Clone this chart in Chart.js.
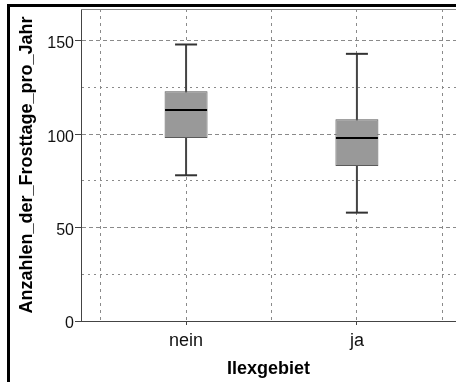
<!DOCTYPE html>
<html>
<head>
<meta charset="utf-8">
<script src="https://cdn.jsdelivr.net/npm/chart.js@4.4.1/dist/chart.umd.min.js"></script>
<style>
  html, body { margin: 0; padding: 0; background: #fff; overflow: hidden; }
  #wrap { position: relative; width: 456px; height: 382px; overflow: hidden; }
  #wrap canvas { position: absolute; left: 0; top: 0; }
  #frame { position: absolute; left: 7px; top: 4px; width: 600px; height: 600px;
           border-left: 3px solid #000; border-top: 3px solid #000; pointer-events: none; }
</style>
</head>
<body>
<div id="wrap">
  <canvas id="chart" width="456" height="382"></canvas>
  <div id="frame"></div>
</div>
<script>
// Frost days per year, split by whether the site lies in the holly (Ilex) region
const categories  = ['nein', 'ja'];
const whiskerLow  = [78, 58];
const quartile1   = [98, 83];
const medians     = [113, 98];
const quartile3   = [123, 108];
const whiskerHigh = [148, 143];

const yTickValues = [0, 25, 50, 75, 100, 125, 150];
const xGridValues = [0.5, 1, 1.5, 2, 2.5];
const yTitle = 'Anzahlen_der_Frosttage_pro_Jahr';
const xTitle = 'Ilexgebiet';

const FONT = "'Liberation Sans', Arial, sans-serif";

const catPos = i => i + 1;
const spans = (lo, hi) => categories.map((c, i) => ({ x: catPos(i), y: [lo[i], hi[i]] }));
const points = vals => categories.map((c, i) => ({ x: catPos(i), y: vals[i] }));
const capPoints = categories.flatMap((c, i) => [
  { x: catPos(i), y: whiskerLow[i] },
  { x: catPos(i), y: whiskerHigh[i] }
]);

// thin grey line along the top of the plot area
const plotTopEdge = {
  id: 'plotTopEdge',
  afterDraw(chart) {
    const { ctx, chartArea: a } = chart;
    ctx.save();
    ctx.strokeStyle = '#888';
    ctx.lineWidth = 1;
    ctx.beginPath();
    ctx.moveTo(a.left, a.top + 0.5);
    ctx.lineTo(a.right, a.top + 0.5);
    ctx.stroke();
    ctx.restore();
  }
};

const noEdgePadding = s => {
  s.paddingTop = 0; s.paddingBottom = 0; s.paddingLeft = 0; s.paddingRight = 0;
};

new Chart(document.getElementById('chart'), {
  type: 'bar',
  data: {
    datasets: [
      { // median line
        type: 'scatter',
        data: points(medians),
        pointStyle: 'line',
        pointRadius: 21,
        pointBorderWidth: 2,
        pointBorderColor: '#000',
        order: 0
      },
      { // whisker caps
        type: 'scatter',
        data: capPoints,
        pointStyle: 'line',
        pointRadius: 11,
        pointBorderWidth: 2,
        pointBorderColor: '#333',
        order: 1
      },
      { // interquartile box
        type: 'bar',
        data: spans(quartile1, quartile3),
        backgroundColor: '#999999',
        borderColor: '#5a5a5a',
        borderWidth: 1,
        borderSkipped: false,
        inflateAmount: 0,
        barThickness: 43,
        grouped: false,
        order: 2
      },
      { // whisker stem
        type: 'bar',
        data: spans(whiskerLow, whiskerHigh),
        backgroundColor: '#444',
        borderWidth: 0,
        inflateAmount: 0,
        barThickness: 2,
        grouped: false,
        order: 3
      }
    ]
  },
  options: {
    responsive: false,
    animation: false,
    devicePixelRatio: 1,
    events: [],
    layout: { autoPadding: false, padding: { top: 9, left: 0, right: 0, bottom: 0 } },
    plugins: { legend: { display: false }, tooltip: { enabled: false } },
    scales: {
      x: {
        type: 'linear',
        offset: false,
        min: 0.385,
        max: 2.58,
        afterBuildTicks: s => { s.ticks = xGridValues.map(v => ({ value: v })); },
        afterFit: s => { s.height = 61; noEdgePadding(s); },
        ticks: {
          autoSkip: false,
          maxRotation: 0,
          padding: 5,
          color: '#111',
          font: { family: FONT, size: 18 },
          callback: v => Number.isInteger(v) ? categories[v - 1] : ''
        },
        grid: {
          offset: false,
          color: '#8a8a8a',
          lineWidth: 1,
          tickLength: 4,
          tickColor: c => (c.tick && Number.isInteger(c.tick.value)) ? '#444' : 'transparent',
          tickBorderDash: []
        },
        border: { color: '#444', width: 1, dash: [3, 4] },
        title: {
          display: true,
          text: xTitle,
          color: '#000',
          font: { family: FONT, size: 18, weight: 'bold' },
          padding: { top: 0, bottom: 2 }
        }
      },
      y: {
        min: 0,
        max: 167,
        afterBuildTicks: s => { s.ticks = yTickValues.map(v => ({ value: v })); },
        afterFit: s => { s.width = 81; noEdgePadding(s); },
        ticks: {
          padding: 1,
          labelOffset: 3,
          color: '#111',
          font: { family: FONT, size: 16 },
          callback: v => v % 50 === 0 ? String(v) : ''
        },
        grid: {
          color: c => (c.tick && c.tick.value === 0) ? 'transparent' : '#8a8a8a',
          lineWidth: 1,
          tickLength: 6,
          tickColor: c => (c.tick && c.tick.value % 50 === 0) ? '#444' : 'transparent',
          tickBorderDash: []
        },
        border: {
          color: '#444',
          width: 1,
          dash: c => (c.tick && c.tick.value % 50 === 0) ? [4, 3] : [2, 4]
        },
        title: {
          display: true,
          text: yTitle,
          color: '#000',
          font: { family: FONT, size: 18, weight: 'bold' },
          padding: { top: 16, bottom: 0 }
        }
      }
    }
  },
  plugins: [plotTopEdge]
});
</script>
</body>
</html>
